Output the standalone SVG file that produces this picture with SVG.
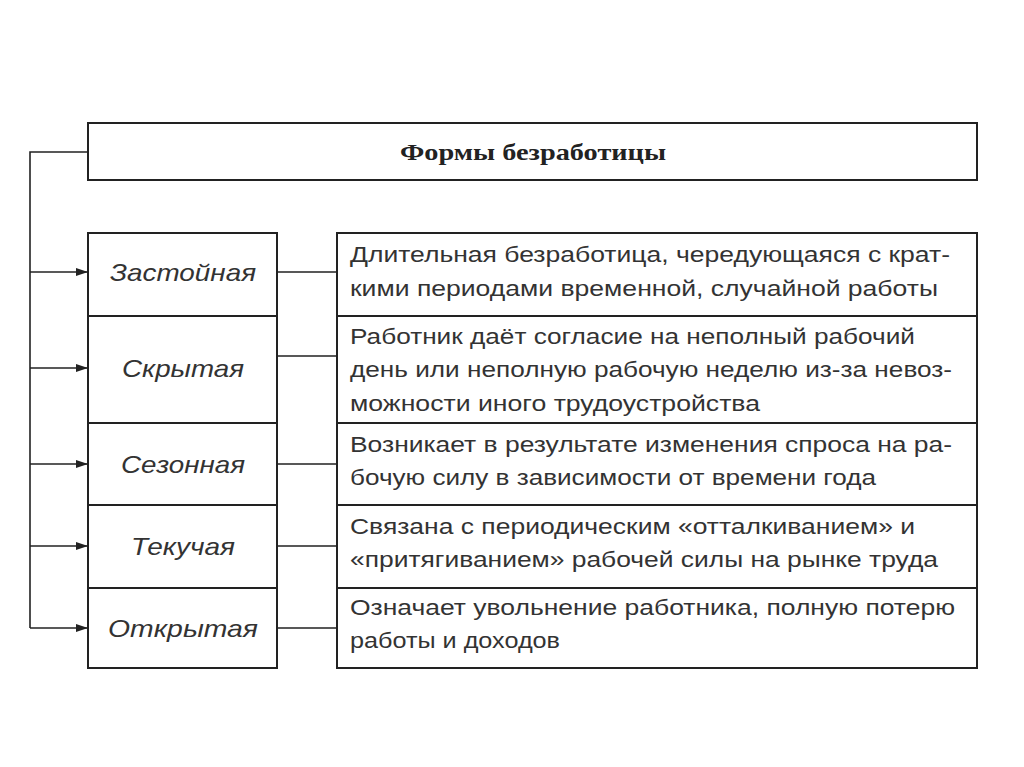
<svg xmlns="http://www.w3.org/2000/svg" width="1024" height="767" viewBox="0 0 1024 767">
<style>
.b{fill:#fff;stroke:#222;stroke-width:2}
.c{fill:none;stroke:#222;stroke-width:1.6}
.l{font-family:"Liberation Sans",sans-serif;font-style:italic;font-size:24px;fill:#333;text-anchor:middle}
.t{font-family:"Liberation Sans",sans-serif;font-size:22px;fill:#333}
.h{font-family:"Liberation Serif",serif;font-weight:bold;font-size:23px;fill:#222;text-anchor:middle}
</style>
<defs><marker id="a" markerWidth="12" markerHeight="8" refX="12" refY="4" orient="auto" markerUnits="userSpaceOnUse"><path d="M0,0L12,4L0,8z" fill="#222"/></marker></defs>
<rect width="1024" height="767" fill="#fff"/>
<g id="title"><rect class="b" x="88" y="123" width="889" height="57"/><text class="h" x="533" y="160" textLength="266" lengthAdjust="spacingAndGlyphs">Формы безработицы</text></g>
<g id="n1"><rect class="b" x="88" y="233" width="189" height="83"/><text class="l" x="183" y="281" textLength="146" lengthAdjust="spacingAndGlyphs">Застойная</text></g>
<g id="n2"><rect class="b" x="88" y="316" width="189" height="107"/><text class="l" x="183" y="377" textLength="122" lengthAdjust="spacingAndGlyphs">Скрытая</text></g>
<g id="n3"><rect class="b" x="88" y="423" width="189" height="82"/><text class="l" x="183" y="473" textLength="124" lengthAdjust="spacingAndGlyphs">Сезонная</text></g>
<g id="n4"><rect class="b" x="88" y="505" width="189" height="83"/><text class="l" x="183" y="555" textLength="104" lengthAdjust="spacingAndGlyphs">Текучая</text></g>
<g id="n5"><rect class="b" x="88" y="588" width="189" height="80"/><text class="l" x="183" y="637" textLength="150" lengthAdjust="spacingAndGlyphs">Открытая</text></g>
<g id="d1"><rect class="b" x="337" y="233" width="640" height="83"/><text class="t" x="350" y="262" textLength="600" lengthAdjust="spacingAndGlyphs">Длительная безработица, чередующаяся с крат-</text><text class="t" x="350" y="296" textLength="588" lengthAdjust="spacingAndGlyphs">кими периодами временной, случайной работы</text></g>
<g id="d2"><rect class="b" x="337" y="316" width="640" height="107"/><text class="t" x="350" y="344" textLength="565" lengthAdjust="spacingAndGlyphs">Работник даёт согласие на неполный рабочий</text><text class="t" x="350" y="377" textLength="602" lengthAdjust="spacingAndGlyphs">день или неполную рабочую неделю из-за невоз-</text><text class="t" x="350" y="411" textLength="410" lengthAdjust="spacingAndGlyphs">можности иного трудоустройства</text></g>
<g id="d3"><rect class="b" x="337" y="423" width="640" height="82"/><text class="t" x="350" y="452" textLength="602" lengthAdjust="spacingAndGlyphs">Возникает в результате изменения спроса на ра-</text><text class="t" x="350" y="485" textLength="526" lengthAdjust="spacingAndGlyphs">бочую силу в зависимости от времени года</text></g>
<g id="d4"><rect class="b" x="337" y="505" width="640" height="83"/><text class="t" x="350" y="534" textLength="565" lengthAdjust="spacingAndGlyphs">Связана с периодическим «отталкиванием» и</text><text class="t" x="350" y="567" textLength="588" lengthAdjust="spacingAndGlyphs">«притягиванием» рабочей силы на рынке труда</text></g>
<g id="d5"><rect class="b" x="337" y="588" width="640" height="80"/><text class="t" x="350" y="615" textLength="605" lengthAdjust="spacingAndGlyphs">Означает увольнение работника, полную потерю</text><text class="t" x="350" y="648" textLength="210" lengthAdjust="spacingAndGlyphs">работы и доходов</text></g>
<g id="connectors">
<path class="c" d="M88,152H30V628"/>
<path class="c" d="M30,272H88" marker-end="url(#a)"/>
<path class="c" d="M30,368H88" marker-end="url(#a)"/>
<path class="c" d="M30,464H88" marker-end="url(#a)"/>
<path class="c" d="M30,546H88" marker-end="url(#a)"/>
<path class="c" d="M30,628H88" marker-end="url(#a)"/>
<path class="c" d="M277,272H337M277,356H337M277,464H337M277,546H337M277,628H337"/>
</g>
</svg>
